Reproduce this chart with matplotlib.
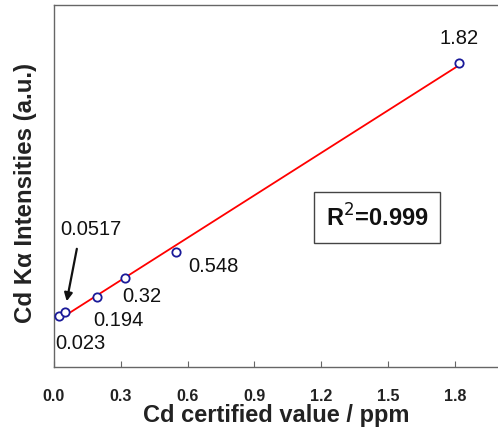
import matplotlib
matplotlib.use("Agg")
import matplotlib.pyplot as plt
import numpy as np

cd_ppm = [0.023, 0.0517, 0.194, 0.32, 0.548, 1.82]
intensity = [14.1, 15.2, 19.3, 24.6, 31.8, 84.0]
point_labels = ["0.023", "0.0517", "0.194", "0.32", "0.548", "1.82"]
x_ticks = [0.0, 0.3, 0.6, 0.9, 1.2, 1.5, 1.8]
r2_text = "R$^{2}$=0.999"

plt.rcParams["font.family"] = ["Liberation Sans", "DejaVu Sans"]

fig = plt.figure(figsize=(4.98, 4.31), dpi=100)
ax = fig.add_axes([0.1084, 0.1462, 0.8944, 0.8399])

x = np.array(cd_ppm)
y = np.array(intensity)
slope, icpt = np.polyfit(x, y, 1)
xf = np.array([x.min(), x.max()])
ax.plot(xf, slope * xf + icpt, color="red", lw=1.3, zorder=2)
ax.plot(x, y, "o", mfc="white", mec="#1a1a99", mew=1.3, ms=6, zorder=3)

ax.set_xlim(0, 2.0)
ax.set_ylim(0, 100)
ax.set_xticks(x_ticks)
ax.set_xticklabels([f"{t:.1f}" for t in x_ticks], fontweight="bold", fontsize=11.5, color="#222222")
ax.set_yticks([])
ax.tick_params(axis="x", direction="in", length=4, pad=15, color="#666666")
for s in ax.spines.values():
    s.set_color("#666666")
    s.set_linewidth(1.0)

ax.set_xlabel("Cd certified value / ppm", fontsize=17, fontweight="bold",
              color="#222222", labelpad=0)
ax.set_ylabel("Cd K\u03b1 Intensities (a.u.)", fontsize=17.3, fontweight="bold",
              color="#222222")
ax.yaxis.set_label_coords(-0.038, 0.483)

# value labels next to each point (offsets in points)
offsets = {
    "0.023": (-3, -19, "left"),
    "0.194": (-3, -16, "left"),
    "0.32": (-2, -13, "left"),
    "0.548": (9, -10, "left"),
    "1.82": (0, 18, "center"),
}
fs = 14.5
for xi, yi, lab in zip(cd_ppm, intensity, point_labels):
    if lab in offsets:
        dx, dy, ha = offsets[lab]
        ax.annotate(lab, (xi, yi), xytext=(dx, dy), textcoords="offset points",
                    ha=ha, va="center", fontsize=fs, color="#111111")

# 0.0517 label with an arrow pointing to its point
ax.annotate("", xy=(cd_ppm[1] + 0.003, intensity[1] + 2.2), xytext=(0.105, 33.4),
            arrowprops=dict(arrowstyle="-|>", color="#111111", lw=1.6,
                            mutation_scale=12))
ax.text(0.03, 38.2, point_labels[1], fontsize=fs, color="#111111", ha="left", va="center")

ax.text(1.45, 41.4, r2_text, fontsize=17, fontweight="bold", color="#111111",
        ha="center", va="center",
        bbox=dict(boxstyle="square,pad=0.5", fc="white", ec="#444444", lw=1.0))

fig.savefig("out.png", dpi=100)
